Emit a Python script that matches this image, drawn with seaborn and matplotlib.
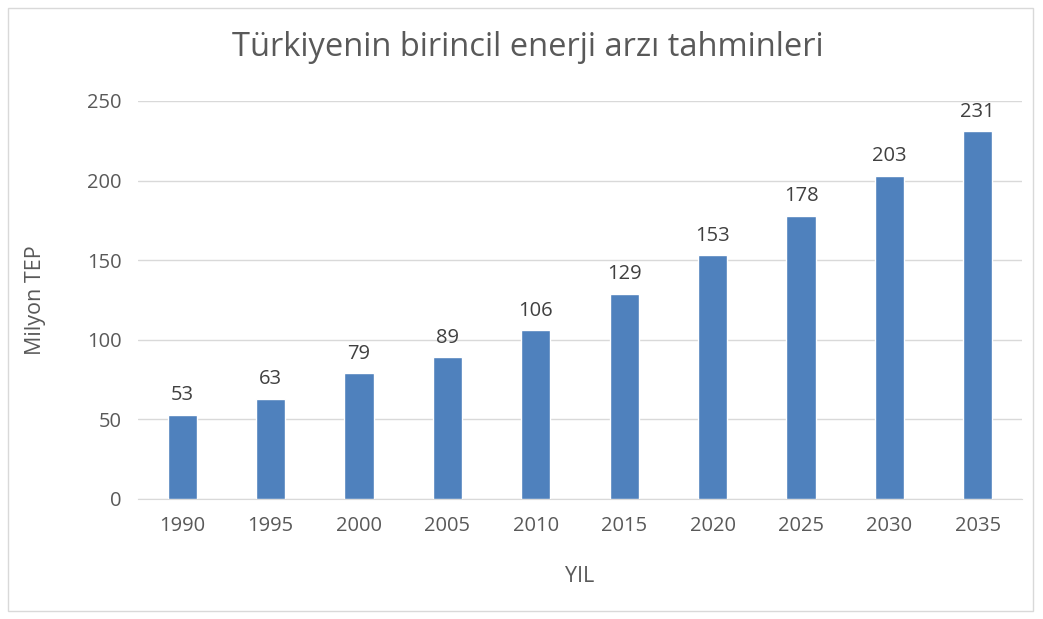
import pandas as pd
import numpy as np
import matplotlib
matplotlib.use('Agg')
import matplotlib.pyplot as plt
import seaborn as sns
from matplotlib.patches import Rectangle

years = ['1990', '1995', '2000', '2005', '2010', '2015', '2020', '2025', '2030', '2035']
supply = [53, 63, 79, 89, 106, 129, 153, 178, 203, 231]

df = pd.DataFrame({'YIL': years, 'Milyon TEP': supply})

sns.set_style('white')
plt.rcParams['font.family'] = ['Open Sans', 'DejaVu Sans']

fig = plt.figure(figsize=(10.43, 6.19), dpi=100)
ax = fig.add_axes([138/1043, 1 - 499/619, (1022 - 138)/1043, (499 - 101)/619])

sns.barplot(data=df, x='YIL', y='Milyon TEP', color='#4F81BD', width=0.33,
            saturation=1, ax=ax, zorder=3)

# value labels
for i, v in enumerate(supply):
    ax.text(i, v + 6, str(v), ha='center', va='bottom', fontsize=14.5, color='#404040')

ax.set_ylim(0, 250)
ax.set_yticks(range(0, 251, 50))
ax.set_xlim(-0.5, len(years) - 0.5)
ax.grid(axis='y', color='#D9D9D9', linewidth=1, zorder=0)
for s in ['left', 'right', 'top']:
    ax.spines[s].set_visible(False)
ax.spines['bottom'].set_color('#D9D9D9')
ax.tick_params(axis='both', length=0, labelsize=14.5, labelcolor='#595959', pad=12)
ax.set_xlabel('YIL', fontsize=15.5, color='#595959', labelpad=22)
ax.set_ylabel('Milyon TEP', fontsize=15.5, color='#595959', labelpad=29)

fig.text(0.5 + 6/1043, 1 - 48/619, 'Türkiyenin birincil enerji arzı tahminleri',
         ha='center', va='center', fontsize=23.5, color='#595959')

fig.patches.append(Rectangle((8/1043, 8/619), (1033 - 8)/1043, (611 - 8)/619,
                             transform=fig.transFigure, fill=False,
                             edgecolor='#D9D9D9', linewidth=1))

fig.savefig('out.png', dpi=100)
